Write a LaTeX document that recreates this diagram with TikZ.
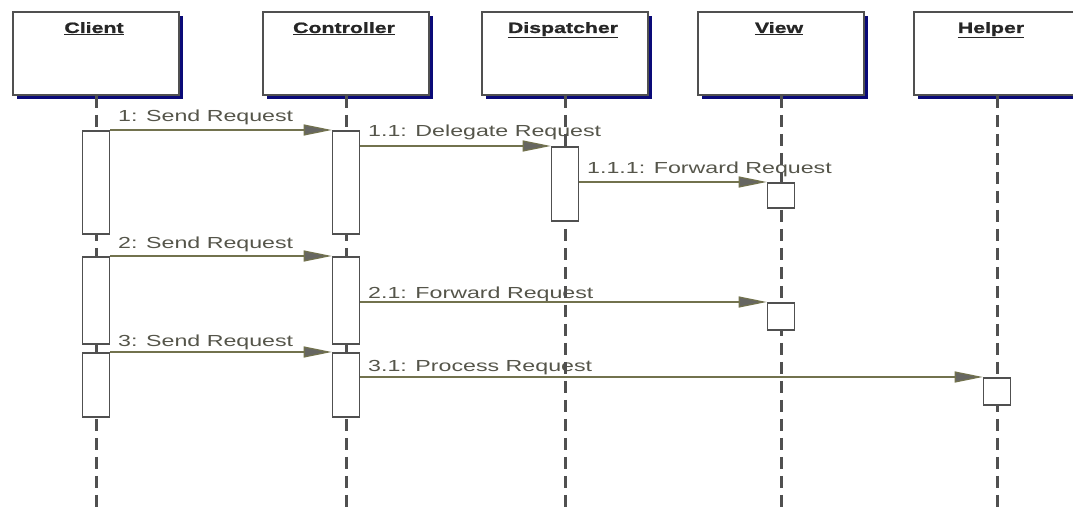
\documentclass[tikz,border=0pt]{standalone}
\usepackage{fontspec}
\usetikzlibrary{arrows.meta,shadows}
\newfontfamily\lblfont[FakeStretch=1.45]{Liberation Sans}
\newfontfamily\ttlfont[FakeStretch=1.42,FakeBold=1.2]{Liberation Sans}
\definecolor{linecol}{HTML}{72724E}
\definecolor{tipfill}{HTML}{666662}
\definecolor{lblcol}{HTML}{55554A}
\definecolor{boxline}{HTML}{505050}
\definecolor{shadowcol}{HTML}{0A0A78}
\definecolor{lifecol}{HTML}{505050}
\tikzset{
  objbox/.style={draw=boxline, line width=1.6pt, fill=white, minimum width=166pt,
    minimum height=83pt, inner sep=0pt,
    drop shadow={shadow xshift=4pt, shadow yshift=-4pt, fill=shadowcol, opacity=1}},
  objtitle/.style={font=\ttlfont\bfseries\fontsize{15}{17}\selectfont, text=black!85,
    inner sep=0pt, anchor=base},
  life/.style={draw=lifecol, line width=3pt, dash pattern=on 12pt off 7pt},
  act/.style={draw=boxline, line width=1.6pt, fill=white, minimum width=27pt, inner sep=0pt, anchor=north},
  msg/.style={draw=linecol, line width=1.3pt,
    -{Triangle[length=28pt, width=11pt, fill=tipfill, line width=1.2pt]}},
  lbl/.style={font=\lblfont\fontsize{16}{18}\selectfont, text=lblcol, inner sep=0pt, anchor=base west},
}
\begin{document}
\begin{tikzpicture}[x=1pt, y=-1pt]
\useasboundingbox (0,0) rectangle (1073,513);
\coordinate (bot) at (0,520);

% object boxes with titles
\node[objbox] (client) at (96,53.5) {};
\node[objbox] (ctrl)   at (346,53.5) {};
\node[objbox] (disp)   at (565,53.5) {};
\node[objbox] (view)   at (781,53.5) {};
\node[objbox] (helper) at (997,53.5) {};
\node[objtitle] (tclient) at (94,33) {\underline{Client}};
\node[objtitle] (tctrl)   at (344,33) {\underline{Controller}};
\node[objtitle] (tdisp)   at (563,33) {\underline{Dispatcher}};
\node[objtitle] (tview)   at (779,33) {\underline{View}};
\node[objtitle] (thelper) at (991,33) {\underline{Helper}};

% message labels
\node[lbl] (l1)   at (118,122) {1: Send Request};
\node[lbl] (l11)  at (368,137) {1.1: Delegate Request};
\node[lbl] (l111) at (587,174) {1.1.1: Forward Request};
\node[lbl] (l2)   at (118,248) {2: Send Request};
\node[lbl] (l21)  at (368,298) {2.1: Forward Request};
\node[lbl] (l3)   at (118,346) {3: Send Request};
\node[lbl] (l31)  at (368,371) {3.1: Process Request};

% lifelines
\draw[life] (client.south) -- (client.south |- bot);
\draw[life] (ctrl.south) -- (ctrl.south |- bot);
\draw[life] (disp.south) -- (disp.south |- bot);
\draw[life] (view.south) -- (view.south |- bot);
\draw[life] (helper.south) -- (helper.south |- bot);

% activations
\node[act, minimum height=103pt] (c1) at (96,130) {};
\node[act, minimum height=87pt]  (c2) at (96,256) {};
\node[act, minimum height=64pt]  (c3) at (96,352) {};
\node[act, minimum height=103pt] (k1) at (346,130) {};
\node[act, minimum height=87pt]  (k2) at (346,256) {};
\node[act, minimum height=64pt]  (k3) at (346,352) {};
\node[act, minimum height=74pt]  (d1) at (565,146) {};
\node[act, minimum height=25pt]  (v1) at (781,182) {};
\node[act, minimum height=27pt]  (v2) at (781,302) {};
\node[act, minimum height=27pt]  (h1) at (997,377) {};

% messages
\draw[msg] (c1.east |- k1.north west) -- (k1.north west);
\draw[msg] (k1.east |- d1.north west) -- (d1.north west);
\draw[msg] (d1.east |- v1.north west) -- (v1.north west);
\draw[msg] (c2.east |- k2.north west) -- (k2.north west);
\draw[msg] (k2.east |- v2.north west) -- (v2.north west);
\draw[msg] (c3.east |- k3.north west) -- (k3.north west);
\draw[msg] (k3.east |- h1.north west) -- (h1.north west);
\end{tikzpicture}
\end{document}
